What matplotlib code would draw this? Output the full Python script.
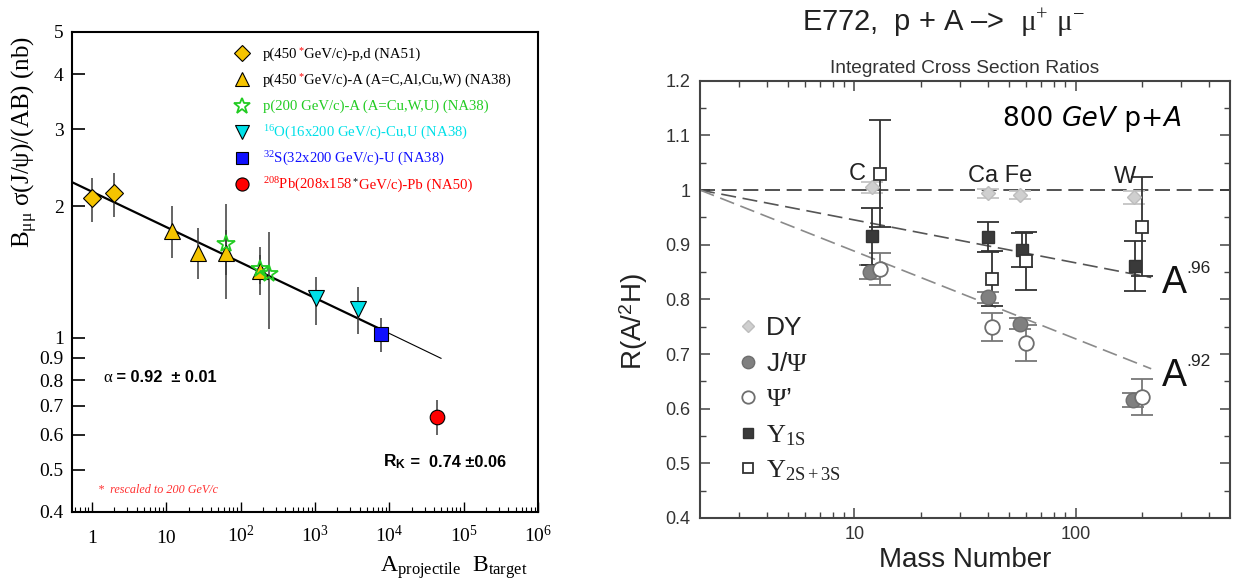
import matplotlib
matplotlib.use("Agg")
import matplotlib.pyplot as plt
from matplotlib.offsetbox import TextArea, HPacker, AnnotationBbox
from matplotlib.ticker import LogLocator, NullLocator, NullFormatter, MultipleLocator, FixedLocator

plt.rcParams['mathtext.fontset'] = 'custom'
plt.rcParams['mathtext.rm'] = 'Liberation Serif'
plt.rcParams['mathtext.it'] = 'Liberation Serif:italic'
plt.rcParams['mathtext.bf'] = 'Liberation Sans:bold'
plt.rcParams['mathtext.sf'] = 'Liberation Sans'

# ---- left panel data: J/psi cross section per nucleon pair vs A*B ----
na51_x = [1, 2]
na51_y = [2.09, 2.14]
na51_lo = [1.84, 1.89]
na51_hi = [2.32, 2.38]

na38p450_x = [12, 27, 64, 184]
na38p450_y = [1.755, 1.56, 1.565, 1.42]
na38p450_lo = [1.52, 1.36, 1.23, 1.25]
na38p450_hi = [2.00, 1.78, 2.02, 1.61]

na38p200_x = [64, 184, 238]
na38p200_y = [1.636, 1.44, 1.40]
na38p200_lo = [1.39, 1.33, 1.05]
na38p200_hi = [1.76, 1.55, 1.75]

na38O_x = [1024, 3808]
na38O_y = [1.236, 1.164]
na38O_lo = [1.07, 1.02]
na38O_hi = [1.38, 1.31]

na38S_x = [7616]
na38S_y = [1.02]
na38S_lo = [0.93]
na38S_hi = [1.11]

na50_x = [43264]
na50_y = [0.66]
na50_lo = [0.60]
na50_hi = [0.72]

fit_x = [0.567, 7600, 49600]
fit_y = [2.26, 1.047, 0.898]

left_yticks = [0.4, 0.5, 0.6, 0.7, 0.8, 0.9, 1, 2, 3, 4, 5]
left_ylabels = ['0.4', '0.5', '0.6', '0.7', '0.8', '0.9', '1', '2', '3', '4', '5']
left_xticks = [1, 10, 1e2, 1e3, 1e4, 1e5, 1e6]
left_xlabels = ['1', '10', '$10^{2}$', '$10^{3}$', '$10^{4}$', '$10^{5}$', '$10^{6}$']

# ---- right panel data: E772 ratios vs mass number ----
dy_x = [12, 40, 56, 184]
dy_y = [1.005, 0.994, 0.991, 0.987]
dy_err = [0.010, 0.008, 0.008, 0.012]

jpsi_x = [11.7, 40, 56, 182]
jpsi_y = [0.850, 0.804, 0.755, 0.616]
jpsi_err = [0.012, 0.010, 0.010, 0.013]

psip_x = [13, 42, 59.5, 200]
psip_y = [0.855, 0.749, 0.720, 0.621]
psip_err = [0.029, 0.026, 0.033, 0.033]

y1s_x = [12, 40, 57, 185]
y1s_y = [0.915, 0.914, 0.890, 0.861]
y1s_err = [0.053, 0.028, 0.031, 0.046]

y23_x = [13, 42, 59.5, 200]
y23_y = [1.030, 0.838, 0.870, 0.933]
y23_err = [0.098, 0.050, 0.053, 0.090]

flat_x = [2, 500]
flat_y = [1.0, 1.0]
a96_x = [2, 220]
a96_y = [1.0, 0.840]
a92_x = [2, 220]
a92_y = [1.0, 0.673]

W, H = 1236, 582
fig = plt.figure(figsize=(12.36, 5.82), dpi=100)


def box(l, t, r, b):
    return [l / W, 1 - b / H, (r - l) / W, (b - t) / H]


def fpos(x, y):
    return (x / W, 1 - y / H)


def rich(x, y, parts, align=(0, 0.5)):
    """Several differently styled pieces of text in one row."""
    boxes = [TextArea(s, textprops=p) for s, p in parts]
    pack = HPacker(children=boxes, align='baseline', pad=0, sep=0)
    ab = AnnotationBbox(pack, fpos(x, y), xycoords='figure fraction',
                        box_alignment=align, frameon=False, pad=0,
                        annotation_clip=False)
    fig.add_artist(ab)


ax1 = fig.add_axes(box(72, 32, 538, 512))
ax2 = fig.add_axes(box(700, 80.7, 1230, 518))

# ================= left panel =================
ax1.set_xscale('log')
ax1.set_yscale('log')
ax1.set_xlim(0.54, 1e6)
ax1.set_ylim(0.4, 5)

ax1.plot(fit_x[:2], fit_y[:2], color='black', lw=1.6, zorder=2)
ax1.plot(fit_x[1:], fit_y[1:], color='black', lw=0.8, zorder=2)

YELLOW = '#f5c400'
GREEN = '#22cc22'
CYAN = '#00e0e8'
BLUE = '#1010ff'
RED = '#ff0000'

series = [
    (na51_x, na51_y, na51_lo, na51_hi, dict(marker='D', ms=9, mfc=YELLOW, mec='black', mew=0.8)),
    (na38p450_x, na38p450_y, na38p450_lo, na38p450_hi, dict(marker='^', ms=11, mfc=YELLOW, mec='black', mew=0.8)),
    (na38p200_x, na38p200_y, na38p200_lo, na38p200_hi, dict(marker='*', ms=13, mfc='none', mec=GREEN, mew=1.3)),
    (na38O_x, na38O_y, na38O_lo, na38O_hi, dict(marker='v', ms=11, mfc=CYAN, mec='black', mew=0.8)),
    (na38S_x, na38S_y, na38S_lo, na38S_hi, dict(marker='s', ms=10, mfc=BLUE, mec='black', mew=0.8)),
    (na50_x, na50_y, na50_lo, na50_hi, dict(marker='o', ms=10.5, mfc=RED, mec='black', mew=0.8)),
]
for xs, ys, lo, hi, st in series:
    yerr = [[y - l for y, l in zip(ys, lo)], [h - y for y, h in zip(ys, hi)]]
    ax1.errorbar(xs, ys, yerr=yerr, fmt='none', ecolor='#3a3a3a', elinewidth=1.1, zorder=3)
    ax1.plot(xs, ys, linestyle='none', zorder=4, **st)

ax1.set_yticks(left_yticks, left_ylabels)
ax1.yaxis.set_minor_locator(NullLocator())
ax1.yaxis.set_minor_formatter(NullFormatter())
ax1.set_xticks(left_xticks, left_xlabels)
ax1.xaxis.set_minor_locator(LogLocator(base=10, subs=range(2, 10), numticks=20))
ax1.xaxis.set_minor_formatter(NullFormatter())
ax1.tick_params(axis='y', which='major', direction='in', length=9, width=1.2, pad=6,
                labelsize=14, labelfontfamily='Liberation Serif')
ax1.tick_params(axis='x', which='major', direction='in', length=7, width=1.0, pad=22,
                labelsize=14, labelfontfamily='Liberation Serif')
ax1.tick_params(axis='x', which='minor', direction='in', length=3.5, width=0.8)
for lbl in ax1.get_xticklabels():
    lbl.set_verticalalignment('baseline')
for sp in ax1.spines.values():
    sp.set_linewidth(1.5)

fig.text(*fpos(25, 142), r'B$_{\mathrm{μμ}}$ σ(J/ψ)/(AB) (nb)', rotation=90,
         ha='center', va='center', fontsize=18, family='Liberation Serif')
fig.text(*fpos(454, 572), r'A$_{\mathrm{projectile}}$  B$_{\mathrm{target}}$',
         ha='center', va='baseline', fontsize=17, family='Liberation Serif')

# legend rows
serif = dict(family='Liberation Serif', fontsize=10.6)
def sp(color, **kw):
    d = dict(serif, color=color)
    d.update(kw)
    return d

legend_rows = [
    ([('p(450', sp('black')), ('$^{*}$', sp(RED)), ('GeV/c)-p,d (NA51)', sp('black'))], series[0][4]),
    ([('p(450', sp('black')), ('$^{*}$', sp(RED)), ('GeV/c)-A (A=C,Al,Cu,W) (NA38)', sp('black'))], series[1][4]),
    ([('p(200 GeV/c)-A (A=Cu,W,U) (NA38)', sp(GREEN))], series[2][4]),
    ([('$^{16}$O(16x200 GeV/c)-Cu,U (NA38)', sp(CYAN))], series[3][4]),
    ([('$^{32}$S(32x200 GeV/c)-U (NA38)', sp(BLUE))], series[4][4]),
    ([('$^{208}$Pb(208x158', sp(RED)), ('$^{*}$', sp('black')), ('GeV/c)-Pb (NA50)', sp(RED))], series[5][4]),
]
for i, (parts, st) in enumerate(legend_rows):
    yc = 53.3 + 26.1 * i
    st = dict(st)
    st['ms'] = st['ms'] * 0.9
    ax1.plot([(241.7 - 72) / 466], [(512 - yc) / 480], transform=ax1.transAxes,
             clip_on=False, linestyle='none', **st)
    rich(263, yc + 1, parts)

rich(103, 378, [('α', dict(family='Liberation Serif', fontsize=12)),
                (' = 0.92  ± 0.01', dict(family='Liberation Sans', fontsize=11.8, fontweight='bold'))])
rich(383, 462, [(r'$\mathbf{R}_{\mathbf{K}}$', dict(fontsize=12.5)),
                (' =  0.74 ±0.06', dict(family='Liberation Sans', fontsize=11.8, fontweight='bold'))])
fig.text(*fpos(98, 493), '*  rescaled to 200 GeV/c', color='#ff3030', fontsize=8.7,
         family='Liberation Serif', style='italic', va='baseline')

# ================= right panel =================
GRAY_TXT = '#333333'
ax2.set_xscale('log')
ax2.set_xlim(2, 500)
ax2.set_ylim(0.4, 1.2)

dash = (0, (9, 4))
ax2.plot(flat_x, flat_y, color='#333333', lw=1.2, linestyle=dash, zorder=2)
ax2.plot(a96_x, a96_y, color='#555555', lw=1.2, linestyle=dash, zorder=2)
ax2.plot(a92_x, a92_y, color='#8a8a8a', lw=1.2, linestyle=dash, zorder=2)

rseries = [
    (dy_x, dy_y, dy_err, '#c4c4c4', dict(marker='D', ms=7.5, mfc='#cfcfcf', mec='#bdbdbd', mew=1)),
    (jpsi_x, jpsi_y, jpsi_err, '#777777', dict(marker='o', ms=10.5, mfc='#808080', mec='#6e6e6e', mew=1)),
    (psip_x, psip_y, psip_err, '#777777', dict(marker='o', ms=10.5, mfc='white', mec='#6e6e6e', mew=1.3)),
    (y1s_x, y1s_y, y1s_err, '#333333', dict(marker='s', ms=9, mfc='#3a3a3a', mec='#333333', mew=1)),
    (y23_x, y23_y, y23_err, '#333333', dict(marker='s', ms=9, mfc='white', mec='#333333', mew=1.3)),
]
for xs, ys, err, ec, st in rseries:
    ax2.errorbar(xs, ys, yerr=err, fmt='none', ecolor=ec, elinewidth=1.3,
                 capsize=8, capthick=1.3, zorder=3)
    ax2.plot(xs, ys, linestyle='none', zorder=4, **st)

ax2.set_xticks([10, 100], ['10', '100'])
ax2.xaxis.set_minor_locator(FixedLocator([3, 4, 5, 6, 7, 8, 9, 20, 30, 40, 50, 60, 70, 80, 90,
                                          200, 300, 400]))
ax2.xaxis.set_minor_formatter(NullFormatter())
ax2.yaxis.set_major_locator(MultipleLocator(0.1))
ax2.yaxis.set_minor_locator(MultipleLocator(0.05))
ax2.yaxis.set_major_formatter(lambda v, p: f'{v:g}')
ax2.tick_params(which='both', direction='in', top=True, right=True, color='#444444',
                labelsize=13, labelcolor=GRAY_TXT, labelfontfamily='Liberation Sans')
ax2.tick_params(which='major', length=7, width=1.1)
ax2.tick_params(which='minor', length=4, width=1.0)
ax2.tick_params(axis='y', pad=7)
ax2.tick_params(axis='x', pad=6)
for s in ax2.spines.values():
    s.set_linewidth(1.5)
    s.set_color('#444444')

sans = 'Liberation Sans'
fig.text(*fpos(943, 31), r'E772,  p + A –>  $\mathrm{μ}^{+}$ $\mathrm{μ}^{-}$', ha='center',
         va='baseline', fontsize=21, family=sans, color='#222222')
fig.text(*fpos(965, 73), 'Integrated Cross Section Ratios', ha='center', va='baseline',
         fontsize=13.8, family=sans, color='#333333')
fig.text(*fpos(965.5, 566.7), 'Mass Number', ha='center', va='baseline', fontsize=20,
         family=sans, color='#222222')
fig.text(*fpos(634, 322), r'R(A/$^{\mathsf{2}}$H)', rotation=90, ha='center', va='center',
         fontsize=20, family=sans, color='#222222')

for txt, x, y in [('C', 848.3, 180), ('Ca Fe', 967.7, 181.7), ('W', 1114.3, 183.3)]:
    fig.text(*fpos(x, y), txt, fontsize=17, family=sans, va='baseline', color='#222222')

rich(1002.7, 123.3, [('800 ', dict(family='DejaVu Sans', fontsize=19)),
                     ('GeV', dict(family='DejaVu Sans', fontsize=19, style='italic')),
                     (' p+', dict(family='DejaVu Sans', fontsize=19)),
                     ('A', dict(family='DejaVu Sans', fontsize=19, style='italic'))],
     align=(0, 0.35))

for base_y, sup in [(293.3, '.96'), (386, '.92')]:
    fig.text(*fpos(1162, base_y), 'A', fontsize=27, family=sans, va='baseline', color='#111111')
    fig.text(*fpos(1186.7, base_y - 20), sup, fontsize=12.5, family=sans, va='baseline',
             color='#222222')

# right legend
rlegend = ['DY', r'J/$\Psi$', r'$\Psi$’', r'$\Upsilon_{\mathrm{1S}}$', r'$\Upsilon_{\mathrm{2S+3S}}$']
for i, (lab, rs) in enumerate(zip(rlegend, rseries)):
    yc = [326, 361.7, 397.3, 433.3, 468.3][i]
    st = dict(rs[4])
    st['ms'] = st['ms'] * 0.85
    ax2.plot([(748.3 - 700) / 530], [(518 - yc) / 437.3], transform=ax2.transAxes,
             clip_on=False, linestyle='none', **st)
    fig.text(*fpos(766, yc + 9), lab, fontsize=19, family=sans, va='baseline', color='#222222')

fig.savefig('out.png', dpi=100)
